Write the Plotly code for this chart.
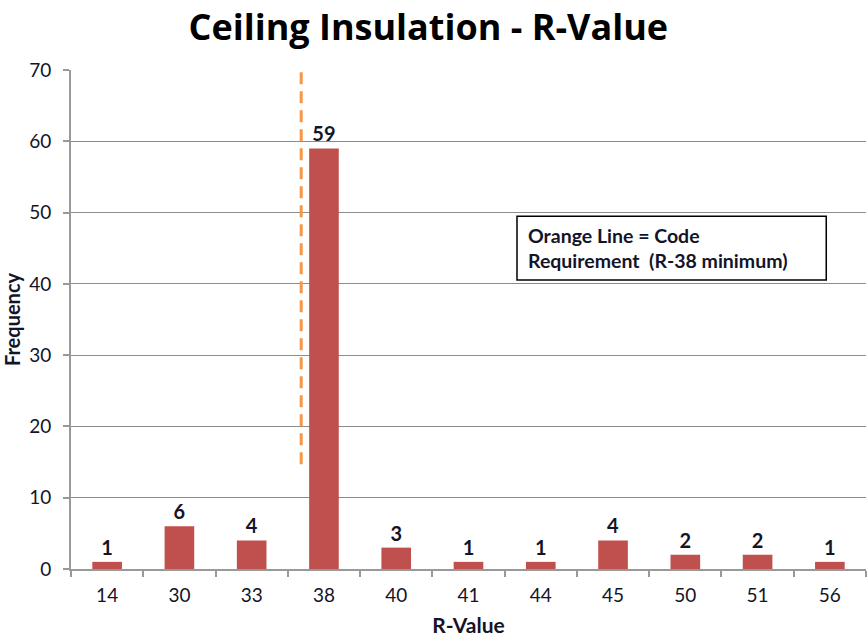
import plotly.graph_objects as go

# Ceiling insulation survey: count of homes at each R-value
r_values = ["14", "30", "33", "38", "40", "41", "44", "45", "50", "51", "56"]
frequency = [1, 6, 4, 59, 3, 1, 1, 4, 2, 2, 1]

# Code requirement marker (drawn between the R-33 and R-38 categories)
code_line_x = 2.685
code_line_y = [14.7, 71]

bar_color = "#C0504D"
line_color = "#F79646"
font_family = "Lato, 'Open Sans', sans-serif"
title_family = "'Open Sans', Lato, sans-serif"
text_color = "#141428"

fig = go.Figure()
fig.add_trace(go.Bar(
    x=r_values,
    y=frequency,
    width=0.41,
    marker=dict(color=bar_color, line=dict(width=0)),
    text=[str(v) for v in frequency],
    textposition="outside",
    textfont=dict(family=font_family, size=20, color=text_color, weight="bold"),
    cliponaxis=False,
))

fig.add_shape(
    type="line", xref="x", yref="y",
    x0=code_line_x, x1=code_line_x, y0=code_line_y[0], y1=code_line_y[1],
    line=dict(color=line_color, width=3, dash="12px,7px"),
)

# Note box explaining the orange line
fig.add_shape(
    type="rect", xref="paper", yref="paper",
    x0=0.561, x1=0.950, y0=0.579, y1=0.707,
    line=dict(color="black", width=1.5), fillcolor="white",
)
fig.add_annotation(
    xref="paper", yref="paper", x=0.572, y=0.643,
    xanchor="left", yanchor="middle", align="left", showarrow=False,
    text="Orange Line = Code<br>Requirement  (R-38 minimum)",
    font=dict(family=font_family, size=19.5, color=text_color, weight="bold"),
)

fig.update_layout(
    width=867, height=642,
    margin=dict(l=71, r=1, t=70, b=73),
    paper_bgcolor="white", plot_bgcolor="white",
    showlegend=False,
    title=dict(
        text="Ceiling Insulation - R-Value",
        x=0.494, xanchor="center", y=0.957, yanchor="middle",
        font=dict(family=title_family, size=36, color="black", weight="bold"),
    ),
    xaxis=dict(
        type="category",
        showgrid=False,
        showline=True, linecolor="#999999", linewidth=2,
        ticks="outside", ticklen=6, tickcolor="#999999", tickwidth=2,
        tickson="boundaries",
        ticklabelstandoff=8,
        tickfont=dict(family=font_family, size=19, color=text_color),
        automargin=False,
        title=dict(text="R-Value", standoff=14,
                   font=dict(family=font_family, size=21, color=text_color, weight="bold")),
    ),
    yaxis=dict(
        range=[0, 70], dtick=10,
        showgrid=True, gridcolor="#8C8C8C", gridwidth=1,
        showline=True, linecolor="#999999", linewidth=2,
        ticks="outside", ticklen=6, tickcolor="#999999", tickwidth=2,
        ticklabelstandoff=8,
        tickfont=dict(family=font_family, size=19, color=text_color),
        zeroline=False,
        automargin=False,
        title=dict(text="Frequency", standoff=10,
                   font=dict(family=font_family, size=20, color=text_color, weight="bold")),
    ),
)

fig.write_html("out.html")
